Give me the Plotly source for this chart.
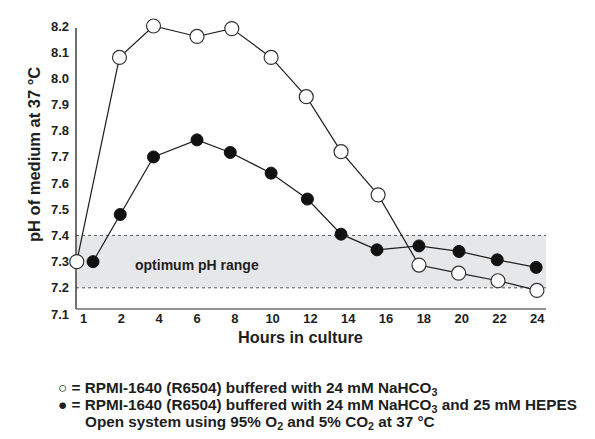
import plotly.graph_objects as go

# ---- data ----
TICK_LABELS = ["1", "2", "4", "6", "8", "10", "12", "14", "16", "18", "20", "22", "24"]
TICK_SLOTS = list(range(len(TICK_LABELS)))  # evenly spaced hour slots on the axis

# sample positions (in slot units, as drawn) and pH values
X_OPEN = [-0.18, 0.95, 1.85, 3.0, 3.92, 4.96, 5.89, 6.81, 7.79, 8.87, 9.92, 10.96, 11.99]
PH_OPEN = [7.30, 8.08, 8.20, 8.16, 8.19, 8.08, 7.93, 7.72, 7.555, 7.287, 7.256, 7.227, 7.19]

X_HEPES = [0.25, 0.97, 1.85, 3.0, 3.88, 4.96, 5.92, 6.81, 7.76, 8.87, 9.93, 10.94, 11.97]
PH_HEPES = [7.30, 7.48, 7.70, 7.765, 7.717, 7.638, 7.539, 7.405, 7.345, 7.36, 7.339, 7.307, 7.278]

Y_TICKS = [7.1, 7.2, 7.3, 7.4, 7.5, 7.6, 7.7, 7.8, 7.9, 8.0, 8.1, 8.2]
OPT_LOW, OPT_HIGH = 7.2, 7.4

LEGEND_LINES = [
    "○ = RPMI-1640 (R6504) buffered with 24 mM NaHCO<sub>3</sub>",
    "● = RPMI-1640 (R6504) buffered with 24 mM NaHCO<sub>3</sub> and 25 mM HEPES",
    "Open system using 95% O<sub>2</sub> and 5% CO<sub>2</sub> at 37 °C",
]

# ---- layout geometry ----
W, H = 595, 439
ML, MR, MT, MB = 68, 57, 18, 133
PW, PH = W - ML - MR, H - MT - MB
FONT = "Liberation Sans, Arial, Helvetica, sans-serif"
INK = "#1e1e1e"


def px(x):
    return (x - ML) / PW


def py(y):
    return (H - MB - y) / PH


fig = go.Figure()

fig.add_trace(go.Scatter(
    x=X_HEPES, y=PH_HEPES, mode="lines+markers", cliponaxis=False,
    line=dict(color=INK, width=1.2),
    marker=dict(symbol="circle", size=12, color="#111111",
                line=dict(color="#111111", width=1)),
    showlegend=False, hoverinfo="skip",
))
fig.add_trace(go.Scatter(
    x=X_OPEN, y=PH_OPEN, mode="lines+markers", cliponaxis=False,
    line=dict(color=INK, width=1.2),
    marker=dict(symbol="circle", size=14, color="white",
                line=dict(color="#333333", width=1.2)),
    showlegend=False, hoverinfo="skip",
))

shapes = [
    dict(type="rect", xref="paper", yref="y", x0=0, x1=1, y0=OPT_LOW, y1=OPT_HIGH,
         fillcolor="#e6e7e9", line=dict(width=0), layer="below"),
    dict(type="line", xref="paper", yref="y", x0=0, x1=1, y0=OPT_HIGH, y1=OPT_HIGH,
         line=dict(color="#555555", width=1, dash="dot"), layer="below"),
    dict(type="line", xref="paper", yref="y", x0=0, x1=1, y0=OPT_LOW, y1=OPT_LOW,
         line=dict(color="#555555", width=1, dash="dot"), layer="below"),
    # axis lines
    dict(type="line", xref="paper", yref="paper", x0=0, x1=0, y0=py(301), y1=py(20),
         line=dict(color="#222222", width=1.3), layer="below"),
    dict(type="line", xref="paper", yref="paper", x0=0, x1=1, y0=py(301), y1=py(301),
         line=dict(color="#6e6e6e", width=1.6), layer="below"),
]

annotations = [
    dict(text="<b>optimum pH range</b>", xref="x", yref="y", x=3.0, y=7.287,
         showarrow=False, font=dict(family=FONT, size=14, color=INK)),
    dict(text="<b>pH of medium at 37 °C</b>", xref="paper", yref="paper",
         x=px(15), y=py(147), textangle=-90, showarrow=False,
         font=dict(family=FONT, size=16.5, color=INK)),
    dict(text="<b>Hours in culture</b>", xref="paper", yref="paper",
         x=px(292), y=py(340), showarrow=False,
         font=dict(family=FONT, size=16.3, color=INK)),
]
LEG_SIZE = 15.3
LEG_X = [48, 48, 48 + 1.744 * LEG_SIZE]
LEG_Y = [380, 397, 414]
for t, lx, ly in zip(LEGEND_LINES, LEG_X, LEG_Y):
    annotations.append(dict(
        text="<b>" + t + "</b>", xref="paper", yref="paper", x=px(lx), y=py(ly),
        xanchor="left", yanchor="middle", showarrow=False,
        font=dict(family=FONT, size=LEG_SIZE, color=INK)))

fig.update_layout(
    width=W, height=H,
    margin=dict(l=ML, r=MR, t=MT, b=MB),
    paper_bgcolor="white", plot_bgcolor="white",
    shapes=shapes, annotations=annotations,
    xaxis=dict(range=[-0.2, 12.23], tickmode="array", tickvals=TICK_SLOTS,
               ticktext=TICK_LABELS, showgrid=False, zeroline=False, showline=False,
               ticks="", ticklabelstandoff=-5,
               tickfont=dict(family=FONT, size=13, color=INK, weight="bold")),
    yaxis=dict(range=[7.1, 8.2], tickmode="array", tickvals=Y_TICKS,
               ticktext=[f"{v:.1f}" for v in Y_TICKS], showgrid=False,
               zeroline=False, showline=False, ticks="", ticklabelstandoff=6,
               tickfont=dict(family=FONT, size=13, color=INK, weight="bold")),
)

fig.write_html("out.html")
